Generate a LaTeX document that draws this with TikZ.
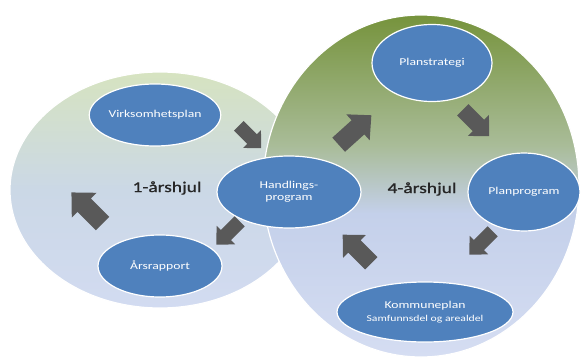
\documentclass[tikz,border=0pt]{standalone}
\usepackage{fontspec}
\setmainfont{Carlito}[FakeStretch=1.3]
\usetikzlibrary{shapes.geometric}
\definecolor{nodeblue}{HTML}{4F81BD}
\definecolor{arrowgray}{HTML}{595959}
\definecolor{lgtop}{HTML}{D6E3C0}
\definecolor{lgmid}{HTML}{CBD8E6}
\definecolor{lgbot}{HTML}{D2DBF1}
\definecolor{rgreen}{HTML}{76933C}
\definecolor{rmid}{HTML}{A9BC98}
\definecolor{rblue}{HTML}{C4D0EA}
\definecolor{rbot}{HTML}{D5DDF2}
\pgfdeclareverticalshading{rightsh}{100bp}{color(0bp)=(rbot); color(25bp)=(rbot); color(46bp)=(rblue); color(56bp)=(rmid); color(75bp)=(rgreen); color(100bp)=(rgreen)}
\begin{document}
\begin{tikzpicture}[x=1pt,y=-1pt,
  blob/.style={ellipse, fill=nodeblue, draw=white, line width=1.2pt, text=white,
    font=\fontsize{10.5}{12.5}\selectfont, align=center, inner sep=0pt},
  wheel/.style={font=\fontsize{15}{17}\selectfont\addfontfeature{FakeBold=1}, text=black!85},
  pics/blockarrow/.style={code={
    \fill[arrowgray] (-22,-9.5) -- (4,-9.5) -- (4,-17.5) -- (22,0) -- (4,17.5) -- (4,9.5) -- (-22,9.5) -- cycle;}}]
\useasboundingbox[fill=white] (0,0) rectangle (581,361);
% big wheels
\path[top color=lgtop, bottom color=lgbot, middle color=lgmid, draw=white, line width=1.2pt]
  (160,190) ellipse [x radius=150, y radius=118];
\path[shading=rightsh, draw=white, line width=1.2pt]
  (421,186) ellipse [x radius=158, y radius=171];
% nodes
\node[blob, minimum width=126pt, minimum height=62pt] (vp) at (155,115) {Virksomhetsplan};
\node[blob, minimum width=124pt, minimum height=62pt] (ar) at (160,266) {Årsrapport};
\node[blob, minimum width=144pt, minimum height=72pt] (hp) at (289,192) {Handlings-\\program};
\node[blob, minimum width=120pt, minimum height=77pt] (ps) at (432,63) {Planstrategi};
\node[blob, minimum width=112pt, minimum height=78pt] (pp) at (524,192) {Planprogram};
\node[blob, minimum width=176pt, minimum height=60pt] (kp) at (425,312)
  {Kommuneplan\\{\fontsize{9}{10}\selectfont Samfunnsdel og arealdel}};
\node[wheel] (w1) at (167,188) {1-årshjul};
\node[wheel] (w4) at (422,189) {4-årshjul};
% block arrows
\pic[rotate=-45, scale=0.72] (a1) at (250,137) {blockarrow};
\pic[rotate=-135, scale=0.75] (a2) at (228,233) {blockarrow};
\pic[rotate=135, scale=1.0] (a3) at (87,208) {blockarrow};
\pic[rotate=42, scale=1.0] (a4) at (355,130) {blockarrow};
\pic[rotate=-45, scale=0.85] (a5) at (476,123) {blockarrow};
\pic[rotate=-135, scale=0.75] (a6) at (481,243) {blockarrow};
\pic[rotate=135, scale=0.92] (a7) at (357,249) {blockarrow};
\end{tikzpicture}
\end{document}
